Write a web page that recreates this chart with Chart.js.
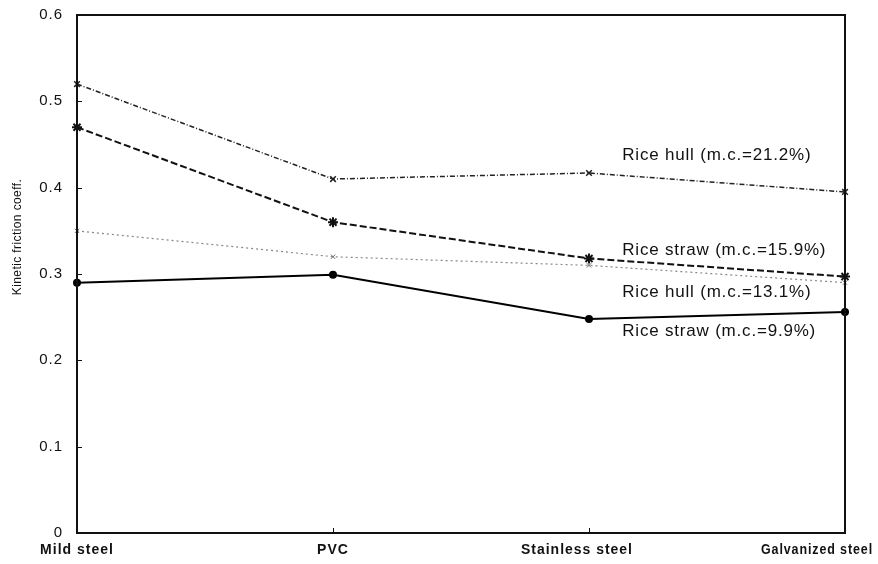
<!DOCTYPE html>
<html>
<head>
<meta charset="utf-8">
<script src="https://cdn.jsdelivr.net/npm/chart.js@4/dist/chart.umd.min.js"></script>
<style>
  html, body { margin: 0; padding: 0; background: #fff; }
  #wrap { width: 878px; height: 564px; }
</style>
</head>
<body>
<div id="wrap"><canvas id="chart"></canvas></div>
<script>
// surfaces tested
const categories = ['Mild steel', 'PVC', 'Stainless steel', 'Galvanized steel'];

// kinetic friction coefficient per series
const hull212 = [0.52, 0.41, 0.417, 0.395];
const straw159 = [0.47, 0.36, 0.318, 0.297];
const hull131 = [0.35, 0.32, 0.31, 0.29];
const straw99 = [0.29, 0.299, 0.248, 0.256];

const seriesNames = [
    'Rice hull (m.c.=21.2%)',
    'Rice straw (m.c.=15.9%)',
    'Rice hull (m.c.=13.1%)',
    'Rice straw (m.c.=9.9%)'
];

const yTicks = [0, 0.1, 0.2, 0.3, 0.4, 0.5, 0.6];
const yTitle = 'Kinetic friction coeff.';

// where the inline series labels sit (fraction of plot width, data value)
const labelSpots = [[0.71, 0.438], [0.71, 0.328], [0.71, 0.279], [0.71, 0.234]];

const FONT = "'Liberation Sans', Arial, Helvetica, sans-serif";

// frame, inward tick marks, x labels, y title and series labels
const decorations = {
    id: 'decorations',
    beforeDraw(chart) {
        chart.ctx.letterSpacing = '1px';
    },
    afterDraw(chart) {
        const ctx = chart.ctx;
        const area = chart.chartArea;
        const x = chart.scales.x;
        const y = chart.scales.y;

        ctx.save();
        ctx.strokeStyle = '#111';
        ctx.lineWidth = 2;
        ctx.strokeRect(area.left, area.top, area.right - area.left, area.bottom - area.top);

        ctx.lineWidth = 1;
        ctx.beginPath();
        yTicks.forEach(v => {
            const py = Math.round(y.getPixelForValue(v)) + 0.5;
            ctx.moveTo(area.left, py);
            ctx.lineTo(area.left + 5, py);
        });
        categories.forEach((c, i) => {
            const px = Math.round(x.getPixelForValue(i)) + 0.5;
            ctx.moveTo(px, area.bottom);
            ctx.lineTo(px, area.bottom - 5);
        });
        ctx.stroke();

        // category labels
        ctx.fillStyle = '#111';
        ctx.font = 'bold 14px ' + FONT;
        ctx.letterSpacing = '1px';
        ctx.textAlign = 'center';
        ctx.textBaseline = 'middle';
        const W = chart.width;
        categories.forEach((c, i) => {
            const w = Math.min(ctx.measureText(c).width, 112);
            let cx = x.getPixelForValue(i);
            if (i === 2) cx -= 12;
            if (cx + w / 2 > W - 5) cx = W - 5 - w / 2;
            ctx.fillText(c, cx, 550, 112);
        });

        // y axis title
        ctx.save();
        ctx.font = '12px ' + FONT;
        ctx.letterSpacing = '0.4px';
        ctx.translate(18, 237);
        ctx.rotate(-Math.PI / 2);
        ctx.fillText(yTitle, 0, 0);
        ctx.restore();

        // inline series labels
        ctx.font = '17px ' + FONT;
        ctx.letterSpacing = '0.8px';
        ctx.textAlign = 'left';
        seriesNames.forEach((name, i) => {
            const lx = area.left + labelSpots[i][0] * (area.right - area.left);
            const ly = y.getPixelForValue(labelSpots[i][1]);
            ctx.fillText(name, lx, ly);
        });
        ctx.restore();
    }
};

const ctx = document.getElementById('chart');

new Chart(ctx, {
    type: 'line',
    data: {
        labels: categories,
        datasets: [
            {
                label: seriesNames[0],
                data: hull212,
                borderColor: '#222',
                borderWidth: 1.5,
                borderDash: [5, 2, 1, 2],
                pointStyle: 'crossRot',
                pointRadius: 4,
                pointBorderWidth: 1.5,
                pointBorderColor: '#222',
                tension: 0
            },
            {
                label: seriesNames[1],
                data: straw159,
                borderColor: '#111',
                borderWidth: 2,
                borderDash: [7, 3],
                pointStyle: 'star',
                pointRadius: 5,
                pointBorderWidth: 2,
                pointBorderColor: '#111',
                tension: 0
            },
            {
                label: seriesNames[2],
                data: hull131,
                borderColor: '#888',
                borderWidth: 1.2,
                borderDash: [2, 3],
                pointStyle: 'crossRot',
                pointRadius: 3,
                pointBorderWidth: 1,
                pointBorderColor: '#666',
                tension: 0
            },
            {
                label: seriesNames[3],
                data: straw99,
                borderColor: '#000',
                borderWidth: 2,
                pointStyle: 'circle',
                pointRadius: 3,
                pointBackgroundColor: '#000',
                pointBorderColor: '#000',
                tension: 0
            }
        ]
    },
    options: {
        responsive: true,
        maintainAspectRatio: false,
        animation: false,
        clip: false,
        layout: { padding: { top: 15, right: 33, left: 0, bottom: 0 } },
        plugins: {
            legend: { display: false },
            tooltip: { enabled: false }
        },
        scales: {
            x: {
                type: 'category',
                offset: false,
                grid: { display: false, drawTicks: false },
                border: { display: false },
                ticks: { display: false },
                afterFit(scale) { scale.height = 31; }
            },
            y: {
                min: 0,
                max: 0.6,
                afterBuildTicks(scale) {
                    scale.ticks = yTicks.map(v => ({ value: v }));
                },
                grid: { display: false, drawTicks: false },
                border: { display: false },
                ticks: {
                    padding: 14,
                    color: '#111',
                    font: { family: FONT, size: 15 },
                    callback: v => String(v)
                },
                afterFit(scale) {
                    scale.width = 77;
                    scale.paddingTop = 0;
                    scale.paddingBottom = 0;
                }
            }
        }
    },
    plugins: [decorations]
});
</script>
</body>
</html>
